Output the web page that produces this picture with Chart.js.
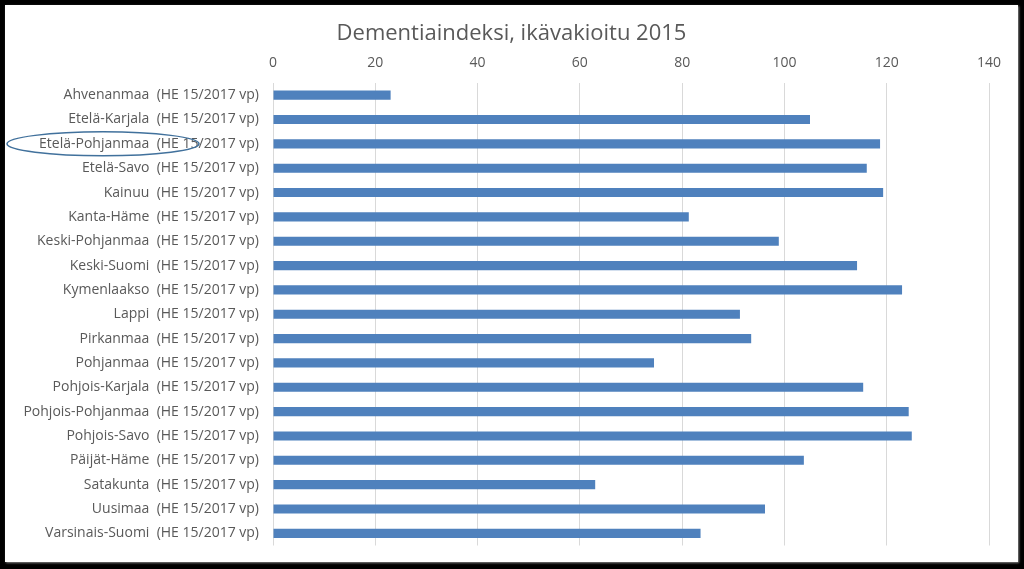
<!DOCTYPE html>
<html>
<head>
<meta charset="utf-8">
<script src="https://cdn.jsdelivr.net/npm/chart.js@4"></script>
<style>
  html, body { margin: 0; padding: 0; background: #000; width: 1024px; height: 569px; overflow: hidden; }
  #panel { position: absolute; left: 5px; top: 5px; width: 1013px; height: 557px; background: #fff; box-shadow: 1px 1px 2px #888; }
  #chart { display: block; }
</style>
</head>
<body>
<div id="panel"><canvas id="chart" width="1013" height="557"></canvas></div>
<script>
// maakunnat
const regions = [
    'Ahvenanmaa', 'Etelä-Karjala', 'Etelä-Pohjanmaa', 'Etelä-Savo', 'Kainuu',
    'Kanta-Häme', 'Keski-Pohjanmaa', 'Keski-Suomi', 'Kymenlaakso', 'Lappi',
    'Pirkanmaa', 'Pohjanmaa', 'Pohjois-Karjala', 'Pohjois-Pohjanmaa', 'Pohjois-Savo',
    'Päijät-Häme', 'Satakunta', 'Uusimaa', 'Varsinais-Suomi'
];
const suffix = '(HE 15/2017 vp)';
// dementiaindeksi, ikävakioitu
const indexValues = [
    23.0, 105.0, 118.7, 116.1, 119.3,
    81.3, 98.9, 114.2, 123.0, 91.3,
    93.5, 74.5, 115.4, 124.3, 124.9,
    103.8, 63.0, 96.2, 83.6
];
const xTicks = [0, 20, 40, 60, 80, 100, 120, 140];
const highlighted = 'Etelä-Pohjanmaa'; // ympyröity nimi

const labels = regions.map(r => r + '  ' + suffix);
const fontFamily = "'Open Sans', 'Noto Sans', sans-serif";

// ellipsi korostetun nimen ympärille
const ellipsePlugin = {
    id: 'ellipse',
    afterDraw(chart) {
        const idx = regions.indexOf(highlighted);
        const y = chart.scales.y.getPixelForValue(idx);
        const ctx = chart.ctx;
        ctx.save();
        ctx.beginPath();
        ctx.ellipse(98, y, 96, 12, 0, 0, Math.PI * 2);
        ctx.strokeStyle = '#41719c';
        ctx.lineWidth = 1.5;
        ctx.stroke();
        ctx.restore();
    }
};

let ctx = document.getElementById('chart').getContext('2d');
let chart = new Chart(ctx, {
    type: 'bar',
    data: {
        labels: labels,
        datasets: [{
            label: 'Dementiaindeksi',
            data: indexValues,
            backgroundColor: '#4f81bd',
            borderWidth: 0,
            barPercentage: 0.75,
            categoryPercentage: 0.5
        }]
    },
    options: {
        indexAxis: 'y',
        responsive: false,
        animation: false,
        layout: { padding: { left: 0, right: 0, bottom: 16.5 } },
        plugins: {
            legend: { display: false },
            tooltip: { enabled: false },
            title: {
                display: true,
                text: 'Dementiaindeksi, ikävakioitu 2015',
                color: '#595959',
                font: { family: fontFamily, size: 22, weight: 'normal' },
                padding: { top: 16, bottom: 7 }
            }
        },
        scales: {
            x: {
                position: 'top',
                min: 0,
                max: 140,
                afterBuildTicks: scale => { scale.ticks = xTicks.map(v => ({ value: v })); },
                afterFit: scale => { scale.height = 28.6; },
                ticks: {
                    color: '#595959',
                    font: { family: fontFamily, size: 14 },
                    padding: 12
                },
                grid: { color: '#d9d9d9', drawTicks: false },
                border: { display: false }
            },
            y: {
                afterFit: scale => {
                    scale.width = 268;
                    scale.paddingTop = 0;
                    scale.paddingBottom = 0;
                },
                ticks: {
                    color: '#595959',
                    font: { family: fontFamily, size: 14 },
                    padding: 14,
                    autoSkip: false
                },
                grid: { display: false, drawTicks: false },
                border: { display: false }
            },
            // tyhjä akseli oikealle, jotta piirtoalue jättää saman tyhjän tilan
            yRight: {
                position: 'right',
                afterFit: scale => {
                    scale.width = 29;
                    scale.paddingTop = 0;
                    scale.paddingBottom = 0;
                },
                ticks: { display: false },
                grid: { display: false, drawTicks: false },
                border: { display: false }
            }
        }
    },
    plugins: [ellipsePlugin]
});
</script>
</body>
</html>
